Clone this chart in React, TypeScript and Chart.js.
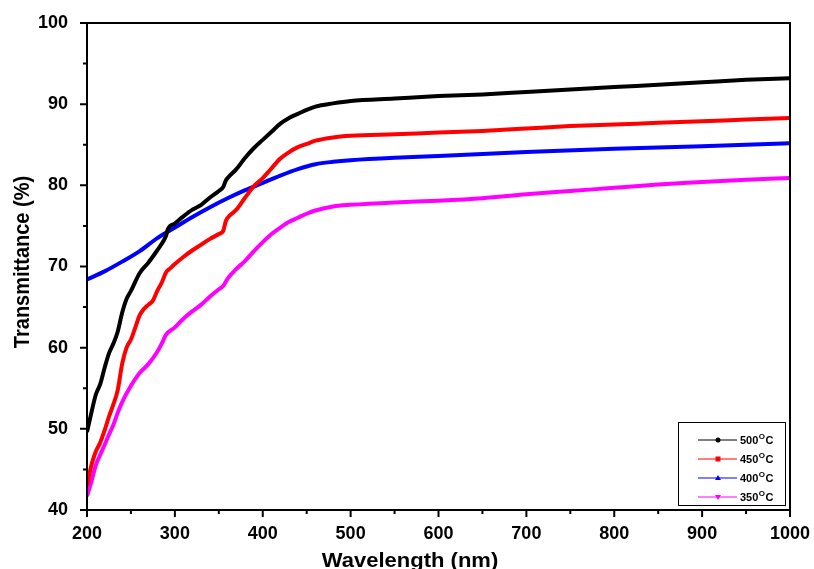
import { useEffect, useRef } from "react";
import { Chart, registerables } from "chart.js";

Chart.register(...registerables);

// ---- data ----
const wl500 = [200, 205, 210, 215, 220, 225, 230, 235, 240, 245, 250, 260, 270, 280, 285, 290, 292, 300, 310, 320, 330, 340, 350, 355, 358, 360, 370, 380, 390, 400, 410, 420, 430, 440, 450, 460, 480, 500, 550, 600, 650, 700, 750, 800, 850, 900, 950, 1000];
const t500 = [49.6, 52.0, 54.2, 55.5, 57.5, 59.3, 60.5, 62.0, 64.3, 66.0, 67.0, 69.2, 70.5, 72.0, 72.8, 73.8, 74.6, 75.3, 76.2, 77.0, 77.6, 78.5, 79.3, 79.8, 80.6, 80.9, 82.0, 83.4, 84.6, 85.6, 86.6, 87.6, 88.3, 88.8, 89.3, 89.7, 90.1, 90.4, 90.7, 91.0, 91.2, 91.5, 91.8, 92.1, 92.4, 92.7, 93.0, 93.2];

const wl450 = [200, 205, 210, 215, 220, 225, 230, 235, 240, 245, 250, 255, 260, 265, 270, 275, 280, 285, 290, 295, 300, 310, 320, 330, 340, 350, 355, 358, 360, 370, 380, 390, 400, 410, 420, 430, 440, 450, 460, 480, 500, 550, 600, 650, 700, 750, 800, 850, 900, 950, 1000];
const t450 = [43.0, 45.5, 47.2, 48.3, 49.8, 51.5, 53.0, 54.8, 58.0, 60.0, 61.0, 62.5, 64.0, 64.8, 65.3, 65.8, 67.0, 68.0, 69.3, 69.8, 70.3, 71.2, 72.0, 72.7, 73.4, 74.0, 74.4, 75.6, 76.0, 77.0, 78.5, 79.9, 80.9, 82.1, 83.3, 84.1, 84.7, 85.1, 85.5, 85.9, 86.1, 86.3, 86.5, 86.7, 87.0, 87.3, 87.5, 87.7, 87.9, 88.1, 88.3];

const wl400 = [200, 220, 240, 260, 280, 300, 320, 340, 360, 380, 400, 420, 440, 460, 480, 500, 550, 600, 700, 800, 900, 1000];
const t400 = [68.4, 69.4, 70.6, 71.9, 73.5, 74.8, 76.1, 77.3, 78.4, 79.4, 80.3, 81.2, 82.0, 82.6, 82.9, 83.1, 83.4, 83.6, 84.1, 84.5, 84.8, 85.2];

const wl350 = [200, 205, 210, 215, 220, 225, 230, 235, 240, 250, 260, 270, 280, 285, 290, 300, 310, 320, 330, 340, 350, 355, 360, 370, 380, 390, 400, 410, 420, 430, 440, 450, 460, 480, 500, 550, 600, 650, 700, 750, 800, 850, 900, 950, 1000];
const t350 = [41.7, 43.5, 45.5, 46.8, 48.0, 49.3, 50.5, 52.0, 53.3, 55.3, 56.9, 58.0, 59.5, 60.5, 61.6, 62.5, 63.6, 64.5, 65.3, 66.3, 67.2, 67.6, 68.5, 69.7, 70.7, 71.9, 73.0, 74.0, 74.8, 75.5, 76.0, 76.5, 76.9, 77.4, 77.6, 77.9, 78.1, 78.4, 78.9, 79.3, 79.7, 80.1, 80.4, 80.7, 80.9];

const seriesLabels = ["500", "450", "400", "350"];
const seriesColors = ["#000000", "#ff0000", "#0000ff", "#ff00ff"];
const seriesMarkers = ["circle", "rect", "triangle", "triangleDown"];

const xTitle = "Wavelength (nm)";
const yTitle = "Transmittance (%)";

const FONT = "'Liberation Sans', Arial, sans-serif";

function pts(xs: number[], ys: number[]) {
  return xs.map((x, i) => ({ x, y: ys[i] }));
}

const framePlugin = {
  id: "frame",
  afterDraw(chart: any) {
    const { ctx, chartArea: a, scales } = chart;
    const x = scales.x;
    const y = scales.y;
    ctx.save();
    ctx.strokeStyle = "#000";
    ctx.lineWidth = 2;
    ctx.strokeRect(a.left, a.top, a.right - a.left, a.bottom - a.top);
    ctx.beginPath();
    for (let v = 200; v <= 1000; v += 50) {
      const px = x.getPixelForValue(v);
      const len = v % 100 === 0 ? 7 : 4;
      ctx.moveTo(px, a.bottom);
      ctx.lineTo(px, a.bottom + len);
    }
    for (let v = 40; v <= 100; v += 5) {
      const py = y.getPixelForValue(v);
      const len = v % 10 === 0 ? 7 : 4;
      ctx.moveTo(a.left, py);
      ctx.lineTo(a.left - len, py);
    }
    ctx.stroke();

    // axis titles
    ctx.fillStyle = "#000";
    ctx.font = `bold 20px ${FONT}`;
    ctx.textAlign = "center";
    ctx.textBaseline = "alphabetic";
    ctx.save();
    ctx.translate(410, 567);
    ctx.scale(1.1, 1);
    ctx.fillText(xTitle, 0, 0);
    ctx.restore();
    ctx.save();
    ctx.translate(29, 262);
    ctx.rotate(-Math.PI / 2);
    ctx.scale(1, 1.1);
    ctx.fillText(yTitle, 0, 0);
    ctx.restore();

    // legend
    const bx = 678, by = 422, bw = 107, bh = 83;
    ctx.lineWidth = 1;
    ctx.fillStyle = "#fff";
    ctx.fillRect(bx, by, bw, bh);
    ctx.strokeRect(bx + 0.5, by + 0.5, bw, bh);
    const rows = [440, 459, 478, 497];
    for (let i = 0; i < 4; i++) {
      const ry = rows[i];
      const c = seriesColors[i];
      ctx.strokeStyle = c;
      ctx.fillStyle = c;
      ctx.lineWidth = 1;
      ctx.beginPath();
      ctx.moveTo(698, ry);
      ctx.lineTo(737, ry);
      ctx.stroke();
      const mx = 718;
      ctx.beginPath();
      const m = seriesMarkers[i];
      if (m === "circle") {
        ctx.arc(mx, ry, 2.5, 0, Math.PI * 2);
      } else if (m === "rect") {
        ctx.rect(mx - 2.5, ry - 2.5, 5, 5);
      } else if (m === "triangle") {
        ctx.moveTo(mx, ry - 3);
        ctx.lineTo(mx + 3, ry + 2);
        ctx.lineTo(mx - 3, ry + 2);
        ctx.closePath();
      } else {
        ctx.moveTo(mx, ry + 3);
        ctx.lineTo(mx + 3, ry - 2);
        ctx.lineTo(mx - 3, ry - 2);
        ctx.closePath();
      }
      ctx.fill();
      ctx.fillStyle = "#000";
      ctx.textAlign = "left";
      ctx.textBaseline = "middle";
      let tx = 740;
      ctx.font = `bold 11px ${FONT}`;
      ctx.fillText(seriesLabels[i], tx, ry + 1);
      tx += ctx.measureText(seriesLabels[i]).width;
      ctx.font = `bold 8px ${FONT}`;
      ctx.fillText("O", tx + 0.5, ry - 3);
      tx += ctx.measureText("O").width + 1;
      ctx.font = `bold 11px ${FONT}`;
      ctx.fillText("C", tx, ry + 1);
    }
    ctx.restore();
  },
};

export default function App() {
  const ref = useRef<HTMLCanvasElement | null>(null);
  useEffect(() => {
    if (!ref.current) return;
    const sets = [
      pts(wl500, t500),
      pts(wl450, t450),
      pts(wl400, t400),
      pts(wl350, t350),
    ];
    const chart = new Chart(ref.current, {
      type: "line",
      data: {
        datasets: sets.map((d, i) => ({
          label: seriesLabels[i] + "°C",
          data: d,
          borderColor: seriesColors[i],
          backgroundColor: seriesColors[i],
          borderWidth: 4,
          pointRadius: 0,
          cubicInterpolationMode: "monotone" as const,
          fill: false,
        })),
      },
      options: {
        animation: false,
        responsive: false,
        layout: { padding: { top: 23, right: 24, left: 0, bottom: 0 } },
        plugins: {
          legend: { display: false },
          tooltip: { enabled: false },
        },
        scales: {
          x: {
            type: "linear",
            min: 200,
            max: 1000,
            grid: { display: false, drawTicks: false },
            border: { display: false },
            ticks: {
              stepSize: 100,
              color: "#000",
              padding: 13,
              maxRotation: 0,
              callback: (v: any) => String(v),
              font: { family: FONT, size: 18, weight: "bold" },
            },
            afterFit(s: any) {
              s.height = 59;
              s.paddingLeft = 0;
              s.paddingRight = 0;
            },
          },
          y: {
            type: "linear",
            min: 40,
            max: 100,
            grid: { display: false, drawTicks: false },
            border: { display: false },
            ticks: {
              stepSize: 10,
              color: "#000",
              padding: 19,
              font: { family: FONT, size: 18, weight: "bold" },
            },
            afterFit(s: any) {
              s.width = 87;
              s.paddingTop = 0;
              s.paddingBottom = 0;
            },
          },
        },
      },
      plugins: [framePlugin],
    });
    return () => chart.destroy();
  }, []);
  return (
    <div style={{ position: "absolute", left: 0, top: 0, width: 814, height: 569, background: "#fff" }}>
      <canvas ref={ref} width={814} height={569} style={{ display: "block" }} />
    </div>
  );
}
